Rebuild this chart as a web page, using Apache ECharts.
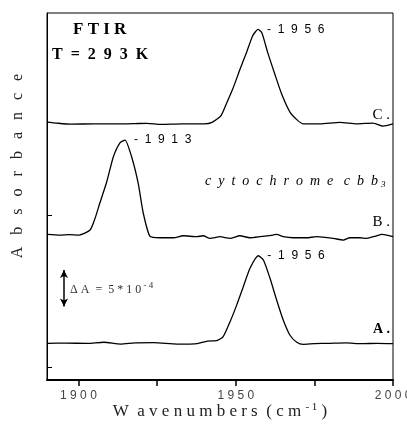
<!DOCTYPE html>
<html>
<head>
<meta charset="utf-8">
<script src="https://cdn.jsdelivr.net/npm/echarts@6/dist/echarts.min.js"></script>
<style>
  html, body { margin: 0; padding: 0; background: #fff; }
  #chart { width: 407px; height: 425px; }
</style>
</head>
<body>
<div id="chart"></div>
<script>
// x: wavenumber (cm-1), y: absorbance change in units of 1e-4, relative to each trace's baseline
const wavenumberRange = [1890, 2000];
const tickValues = [1900, 1925, 1950, 1975, 2000];
const labelValues = [1900, 1950, 2000];
const absorbanceRange = [0, 50];
const baselines = [5.0, 19.75, 34.9];
const peakLabels = ["1956", "1913", "1956"];
const traceTags = ["A .", "B .", "C ."];
const scaleBarAt = 1895.4;
const scaleBarRange = [10, 15];

const traceA = [
  [1890.1, 0], [1896, 0.02], [1902.8, 0], [1908.1, 0.14], [1913.4, -0.1],
  [1918, 0.05], [1924, 0.08], [1931.4, -0.1], [1935.5, -0.1], [1937.8, -0.05],
  [1941.0, 0.3], [1943.9, 0.35], [1946.0, 0.9], [1948.2, 2.94], [1950.3, 5.2],
  [1952.4, 7.7], [1954.5, 10.2], [1957.2, 11.93], [1958.8, 11.35], [1960.9, 8.86],
  [1963.0, 5.9], [1965.1, 3.17], [1967.2, 1.13], [1969.4, 0.14], [1971.5, -0.14],
  [1975, -0.05], [1980, 0], [1985, 0.05], [1990, -0.05], [1995, 0], [2000, -0.05],
];

const traceB = [
  [1890.2, 0.1], [1894, 0], [1897, 0.05], [1900.2, 0], [1903.7, 0.68],
  [1905.3, 2.3], [1906.8, 4.36], [1909.0, 7.26], [1911.1, 10.67], [1913.2, 12.57],
  [1914.8, 12.94], [1916.9, 10.67], [1919.0, 7.04], [1920.6, 3.0], [1922.7, -0.14],
  [1925.9, -0.37], [1930.2, -0.37], [1933.3, -0.1], [1937.6, -0.23], [1939.7, -0.1],
  [1941.8, -0.45], [1945.0, -0.23], [1948.2, -0.45], [1951.3, -0.1], [1954.5, -0.37],
  [1957.7, -0.23], [1961.9, 0], [1963.0, 0.1], [1965.1, -0.23], [1968.3, -0.37],
  [1972.5, -0.37], [1975.7, -0.23], [1981.0, -0.45], [1984.2, -0.68], [1986.3, -0.37],
  [1989.5, -0.37], [1991.6, -0.45], [1994.8, -0.1], [1996.4, 0.1], [1999.0, -0.1],
  [2000, -0.23],
];

const traceC = [
  [1890, 0.23], [1893, 0.1], [1897.5, -0.04], [1905, 0], [1910, 0],
  [1914.5, 0], [1918, 0.03], [1921.8, 0.07], [1926.2, -0.07], [1933, 0],
  [1939.9, 0], [1942.5, 0.2], [1945.3, 1.1], [1946.9, 2.6], [1949.1, 4.8],
  [1951.3, 7.36], [1953.5, 9.8], [1955.4, 12.0], [1957.1, 12.87], [1958.3, 12.4],
  [1960.2, 9.67], [1962.5, 6.68], [1964.7, 3.95], [1967.2, 1.63], [1969.5, 0.54],
  [1971.4, 0], [1976.8, 0], [1983.1, 0.2], [1988.5, 0], [1993.6, 0.1],
  [1996.8, -0.3], [2000, 0],
];

const traces = [traceA, traceB, traceC];
const serif = '"Liberation Serif", "DejaVu Serif", serif';
const spaced = (s, gap) => String(s).split("").join(gap || " ");

const chart = echarts.init(document.getElementById("chart"));

const series = traces.map((trace, i) => ({
  name: traceTags[i],
  type: "line",
  data: trace.map(([x, y]) => [x, y + baselines[i]]),
  showSymbol: false,
  smooth: 0.2,
  lineStyle: { color: "#000", width: 1.3 },
  markPoint: {
    symbol: "circle",
    symbolSize: 0,
    data: [{ type: "max" }],
    label: {
      show: true,
      position: "right",
      distance: 9,
      formatter: "-  " + spaced(peakLabels[i], "  "),
      font: "bold 11px " + serif,
      color: "#000",
    },
  },
}));

series[0].markLine = {
  silent: true,
  symbol: ["arrow", "arrow"],
  symbolSize: [6, 8],
  label: { show: false },
  lineStyle: { color: "#000", width: 1.5, type: "solid" },
  data: [[{ coord: [scaleBarAt, scaleBarRange[0]] }, { coord: [scaleBarAt, scaleBarRange[1]] }]],
};

chart.setOption({
  animation: false,
  grid: {
    left: 47,
    right: 14,
    top: 13,
    bottom: 45,
    outerBoundsMode: "none",
    containLabel: false,
    show: true,
    borderColor: "#000",
    borderWidth: 1,
  },
  xAxis: {
    type: "value",
    min: wavenumberRange[0],
    max: wavenumberRange[1],
    axisLine: { lineStyle: { color: "#000", width: 2 } },
    axisTick: {
      customValues: tickValues,
      length: 6,
      lineStyle: { color: "#000", width: 1.5 },
    },
    axisLabel: {
      customValues: labelValues,
      formatter: (v) => spaced(v),
      font: "12px " + serif,
      color: "#444",
      margin: 10,
      hideOverlap: false,
    },
    splitLine: { show: false },
  },
  yAxis: {
    type: "value",
    min: absorbanceRange[0],
    max: absorbanceRange[1],
    axisLine: { show: true, lineStyle: { color: "#000", width: 1 } },
    axisTick: {
      show: true,
      inside: true,
      customValues: [1.8, 22.5],
      length: 5,
      lineStyle: { color: "#000" },
    },
    axisLabel: { show: false },
    splitLine: { show: false },
  },
  series: series,
  graphic: [
    {
      type: "text", x: 73, y: 30,
      style: { text: "F T I R", font: "bold 17px " + serif, fill: "#000", verticalAlign: "middle" },
    },
    {
      type: "text", x: 52, y: 55,
      style: { text: "T  =  2  9  3  K", font: "bold 16px " + serif, fill: "#000", verticalAlign: "middle" },
    },
    {
      type: "text", x: 205, y: 181,
      style: {
        text: "{t|c  y  t  o  c  h  r  o  m  e   c  b  b}{s|3}",
        verticalAlign: "middle",
        rich: {
          t: { font: "italic 14px " + serif, fill: "#000" },
          s: { font: "italic 9px " + serif, fill: "#000", padding: [8, 0, 0, 3] },
        },
      },
    },
    {
      type: "text", x: 390, y: 115,
      style: { text: traceTags[2], font: "15px " + serif, fill: "#000", align: "right", verticalAlign: "middle" },
    },
    {
      type: "text", x: 390, y: 222,
      style: { text: traceTags[1], font: "15px " + serif, fill: "#000", align: "right", verticalAlign: "middle" },
    },
    {
      type: "text", x: 390, y: 329,
      style: { text: traceTags[0], font: "bold 14px " + serif, fill: "#000", align: "right", verticalAlign: "middle" },
    },
    {
      type: "text", x: 70, y: 290,
      style: {
        text: "{t|Δ A  =  5 * 1 0}{s| - 4}",
        verticalAlign: "middle",
        rich: {
          t: { font: "12px " + serif, fill: "#333" },
          s: { font: "9px " + serif, fill: "#333", padding: [0, 0, 9, 0] },
        },
      },
    },
    {
      type: "text", x: 18, y: 166,
      rotation: Math.PI / 2,
      style: {
        text: "A   b   s   o   r   b   a   n   c   e",
        font: "16px " + serif,
        fill: "#222",
        align: "center",
        verticalAlign: "middle",
      },
    },
    {
      type: "text", x: 220, y: 412,
      style: {
        text: "{t|W  a v e n u m b e r s  ( c m }{s|- 1}{t| )}",
        align: "center",
        verticalAlign: "middle",
        rich: {
          t: { font: "17px " + serif, fill: "#222" },
          s: { font: "11px " + serif, fill: "#222", padding: [0, 0, 10, 0] },
        },
      },
    },
  ],
});
</script>
</body>
</html>
